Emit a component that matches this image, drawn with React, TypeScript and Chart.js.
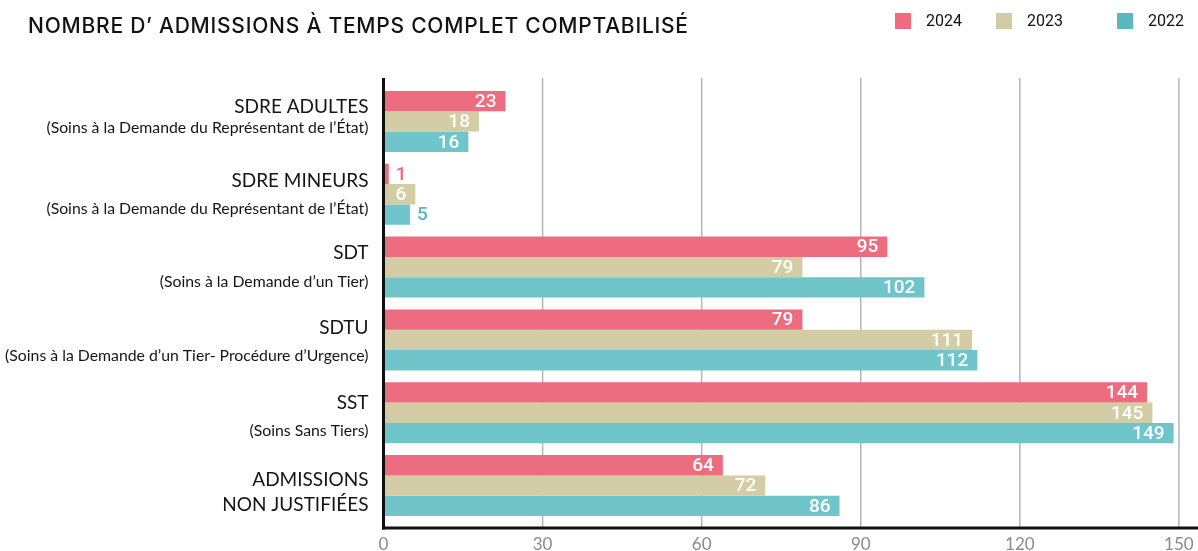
import React, { useEffect, useRef } from 'react';
import { Chart, registerables } from 'chart.js';

Chart.register(...registerables);

const TITLE = 'NOMBRE D’ ADMISSIONS À TEMPS COMPLET COMPTABILISÉ';
const years = ['2024', '2023', '2022'];
const categories = ['SDRE ADULTES', 'SDRE MINEURS', 'SDT', 'SDTU', 'SST', 'ADMISSIONS NON JUSTIFIÉES'];
const mainLines = [['SDRE ADULTES'], ['SDRE MINEURS'], ['SDT'], ['SDTU'], ['SST'], ['ADMISSIONS', 'NON JUSTIFIÉES']];
const subLines = [
  '(Soins à la Demande du Représentant de l’État)',
  '(Soins à la Demande du Représentant de l’État)',
  '(Soins à la Demande d’un Tier)',
  '(Soins à la Demande d’un Tier- Procédure d’Urgence)',
  '(Soins Sans Tiers)',
  '',
];
const values2024 = [23, 1, 95, 79, 144, 64];
const values2023 = [18, 6, 79, 111, 145, 72];
const values2022 = [16, 5, 102, 112, 149, 86];
const xTickValues = [0, 30, 60, 90, 120, 150];

// layout / style constants (not data)
const BAR_COLORS = ['#EE6C80', '#D3CCA5', '#6FC5C9'];
const LEGEND_COLORS = ['#F06B80', '#D2CCA4', '#5AB8BE'];
const OUTSIDE_LABEL_COLORS = ['#EE6C80', '#C2B98C', '#5AB8BE'];
const LEGEND_X = [895, 996, 1117];
const LABEL_OFFSETS = [[-15, 6], [-13, 15], [-14, 15], [-12, 16], [-10, 18], [-6, 19]];
const LABEL_FONT = 'Lato, "Noto Sans", sans-serif';
const TITLE_FONT = 'Inter, "Noto Sans", sans-serif';
const NUM_FONT = 'Roboto, "Noto Sans", sans-serif';
const TITLE_WIDTH = 660;

const chromePlugin = {
  id: 'chrome',
  beforeDatasetsDraw(chart: any) {
    const { ctx, chartArea } = chart;
    const xs = chart.scales.x;
    ctx.save();
    ctx.strokeStyle = '#b4b4b4';
    ctx.lineWidth = 1.5;
    xTickValues.forEach((v) => {
      if (v === 0) return;
      const x = xs.getPixelForValue(v);
      ctx.beginPath();
      ctx.moveTo(x, chartArea.top - 7);
      ctx.lineTo(x, chartArea.bottom + 6);
      ctx.stroke();
    });
    ctx.restore();
  },
  afterDatasetsDraw(chart: any) {
    const { ctx, chartArea } = chart;
    const xs = chart.scales.x;
    ctx.save();
    chart.data.datasets.forEach((ds: any, di: number) => {
      const meta = chart.getDatasetMeta(di);
      meta.data.forEach((bar: any, i: number) => {
        const v = ds.data[i];
        const txt = String(v);
        ctx.font = `500 19px ${NUM_FONT}`;
        const w = ctx.measureText(txt).width;
        const len = bar.x - bar.base;
        ctx.textBaseline = 'middle';
        if (len > w + 16) {
          ctx.fillStyle = '#ffffff';
          ctx.textAlign = 'right';
          ctx.fillText(txt, bar.x - 9, bar.y + 1);
        } else {
          ctx.fillStyle = OUTSIDE_LABEL_COLORS[di];
          ctx.textAlign = 'left';
          ctx.fillText(txt, bar.x + 7, bar.y + 1);
        }
      });
    });
    const x0 = xs.getPixelForValue(0);
    ctx.strokeStyle = '#111111';
    ctx.lineWidth = 3;
    ctx.beginPath();
    ctx.moveTo(x0, chartArea.top - 7);
    ctx.lineTo(x0, chartArea.bottom + 7.5);
    ctx.stroke();
    ctx.beginPath();
    ctx.moveTo(x0 - 1.5, chartArea.bottom + 6);
    ctx.lineTo(chart.width, chartArea.bottom + 6);
    ctx.stroke();
    ctx.restore();
  },
  afterDraw(chart: any) {
    const { ctx, chartArea } = chart;
    const ys = chart.scales.y;
    ctx.save();
    ctx.textAlign = 'right';
    ctx.textBaseline = 'middle';
    ctx.fillStyle = '#151515';
    const rx = chartArea.left - 15;
    categories.forEach((_c, i) => {
      const cy = ys.getPixelForValue(i);
      const [o1, o2] = LABEL_OFFSETS[i];
      const lines = mainLines[i];
      ctx.font = `19px ${LABEL_FONT}`;
      ctx.fillText(lines[0], rx, cy + o1);
      if (lines.length > 1) ctx.fillText(lines[1], rx, cy + o2);
      if (subLines[i]) {
        ctx.font = `15.8px ${LABEL_FONT}`;
        ctx.fillText(subLines[i], rx, cy + o2);
      }
    });
    // title
    ctx.textAlign = 'left';
    ctx.fillStyle = '#111111';
    ctx.font = `500 21px ${TITLE_FONT}`;
    const tw = ctx.measureText(TITLE).width;
    const spacing = (TITLE_WIDTH - tw) / (TITLE.length - 1);
    (ctx as any).letterSpacing = `${spacing}px`;
    ctx.fillText(TITLE, 28, 27);
    (ctx as any).letterSpacing = '0px';
    // legend
    chart.data.datasets.forEach((ds: any, di: number) => {
      const lx = LEGEND_X[di];
      ctx.fillStyle = LEGEND_COLORS[di];
      ctx.fillRect(lx, 13, 16, 16);
      ctx.fillStyle = '#111111';
      ctx.font = `16px ${NUM_FONT}`;
      ctx.textAlign = 'left';
      ctx.fillText(ds.label, lx + 31, 21.5);
    });
    ctx.restore();
  },
};

export default function App() {
  const ref = useRef<HTMLCanvasElement | null>(null);
  useEffect(() => {
    if (!ref.current) return;
    const chart = new Chart(ref.current, {
      type: 'bar',
      data: {
        labels: categories,
        datasets: [
          { label: years[0], data: values2024, backgroundColor: BAR_COLORS[0] },
          { label: years[1], data: values2023, backgroundColor: BAR_COLORS[1] },
          { label: years[2], data: values2022, backgroundColor: BAR_COLORS[2] },
        ],
      },
      options: {
        indexAxis: 'y',
        animation: false,
        responsive: true,
        maintainAspectRatio: false,
        layout: { padding: { top: 85, left: 0, right: 0, bottom: 0 } },
        datasets: { bar: { categoryPercentage: 0.838, barPercentage: 1, borderWidth: 0 } },
        plugins: {
          legend: { display: false },
          title: { display: false },
          tooltip: { enabled: false },
        },
        scales: {
          x: {
            type: 'linear',
            bounds: 'data',
            min: 0,
            max: 153.6,
            afterFit: (s: any) => { s.height = 29; s.paddingRight = 0; },
            grid: { display: false, drawTicks: false },
            border: { display: false },
            ticks: {
              stepSize: 30,
              includeBounds: false,
              padding: 12,
              color: '#8a8a8a',
              font: { family: LABEL_FONT, size: 17 },
            },
          },
          y: {
            type: 'category',
            afterFit: (s: any) => { s.width = 383.5; },
            grid: { display: false, drawTicks: false },
            border: { display: false },
            ticks: { display: false },
          },
        },
      },
      plugins: [chromePlugin],
    });
    return () => chart.destroy();
  }, []);
  return (
    <div style={{ position: 'absolute', left: 0, top: 0, width: 1198, height: 551, background: '#fff' }}>
      <canvas ref={ref} />
    </div>
  );
}
